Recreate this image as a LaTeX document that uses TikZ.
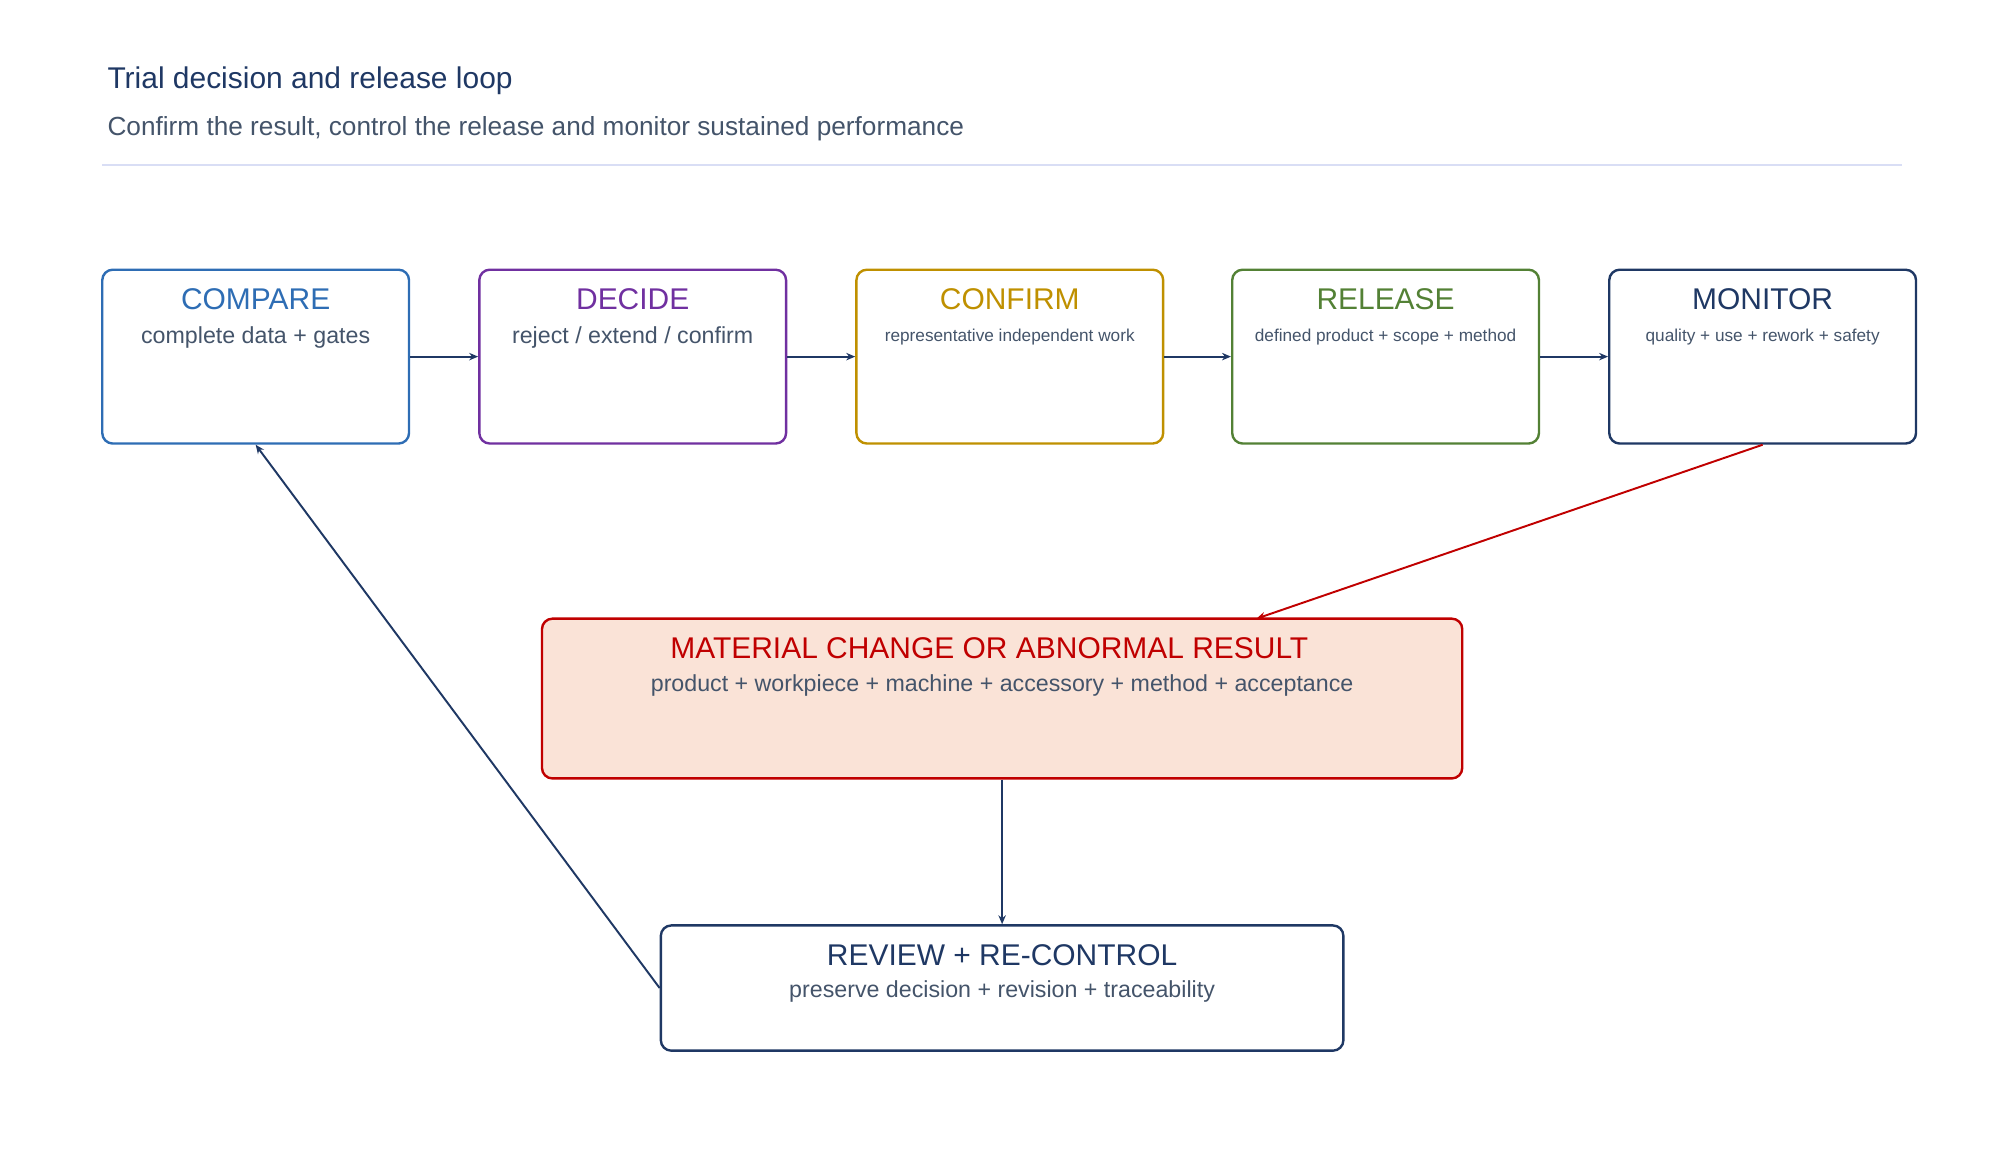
\documentclass[tikz,border=0pt]{standalone}
\usepackage{fontspec}
\setmainfont{Liberation Sans}
\usetikzlibrary{arrows.meta}
\definecolor{cblue}{HTML}{2E6DB4}
\definecolor{cpurp}{HTML}{7030A0}
\definecolor{cgold}{HTML}{BF9000}
\definecolor{cgreen}{HTML}{538135}
\definecolor{cnavy}{HTML}{1F3864}
\definecolor{cred}{HTML}{C00000}
\definecolor{cfill}{HTML}{FAE3D7}
\definecolor{ctext}{HTML}{44546A}
\definecolor{crule}{HTML}{D9DEF5}
\tikzset{
 box/.style={draw, line width=1.6pt, rounded corners=7pt, minimum width=240*0.03cm, minimum height=136*0.03cm, inner sep=0pt},
 ttl/.style={font=\fontsize{20}{22}\selectfont, anchor=center},
 sub/.style={font=\fontsize{15.5}{18}\selectfont, text=ctext, anchor=center},
 ssub/.style={font=\fontsize{11.5}{14}\selectfont, text=ctext, anchor=center},
 arr/.style={draw=cnavy, line width=1.3pt, -{Stealth[length=6pt,width=5pt]}}
}
\begin{document}
\begin{tikzpicture}[x=0.03cm,y=-0.03cm]
\useasboundingbox (0,0) rectangle (1560,908);
\node[anchor=west, text=cnavy, font=\fontsize{20}{22}\selectfont] (t) at (80,63) {Trial decision and release loop};
\node[anchor=west, text=ctext, font=\fontsize{17.5}{20}\selectfont] (s) at (80,101) {Confirm the result, control the release and monitor sustained performance};
\draw[crule, line width=1.5pt] (80,129) -- (1488,129);
\foreach \n/\x/\c/\T/\S/\st in {cmp/200/cblue/COMPARE/{complete data + gates}/sub, dec/495/cpurp/DECIDE/{reject / extend / confirm}/sub, con/790/cgold/CONFIRM/{representative independent work}/ssub, rel/1084/cgreen/RELEASE/{defined product + scope + method}/ssub, mon/1379/cnavy/MONITOR/{quality + use + rework + safety}/ssub}{
 \node[box, draw=\c] (\n) at (\x,279) {};
 \node[ttl, text=\c] (\n t) at (\x,234) {\T};
 \node[\st] (\n s) at (\x,264) {\S};
}
\node[box, draw=cred, fill=cfill, minimum width=720*0.03cm, minimum height=125*0.03cm] (mat) at (784,546.5) {};
\node[ttl, text=cred] (matt) at (774,507) {MATERIAL CHANGE OR ABNORMAL RESULT};
\node[sub] (mats) at (784,536) {product + workpiece + machine + accessory + method + acceptance};
\node[box, draw=cnavy, minimum width=534*0.03cm, minimum height=98*0.03cm] (rev) at (784,773) {};
\node[ttl, text=cnavy] (revt) at (784,747) {REVIEW + RE-CONTROL};
\node[sub] (revs) at (784,776) {preserve decision + revision + traceability};
\draw[arr] (cmp.east) -- (dec.west);
\draw[arr] (dec.east) -- (con.west);
\draw[arr] (con.east) -- (rel.west);
\draw[arr] (rel.east) -- (mon.west);
\coordinate (mi) at (983,484);
\draw[arr, draw=cred, cred] (mon.south) -- (mi);
\draw[arr] (mat.south) -- (rev.north);
\draw[arr] (rev.west) -- (cmp.south);
\end{tikzpicture}
\end{document}
